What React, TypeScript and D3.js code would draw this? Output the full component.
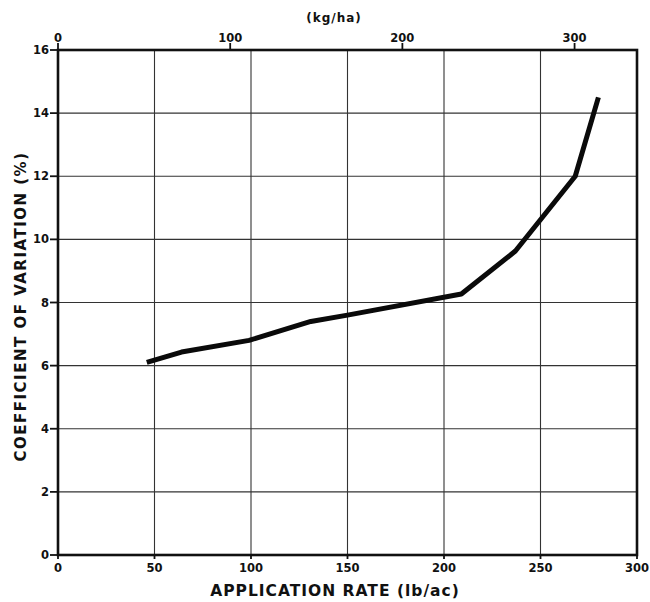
import React, { useEffect, useRef } from 'react';
import * as d3 from 'd3';

// application rate (lb/ac) vs coefficient of variation (%)
const rateLbAc = [46, 64, 99, 131, 150, 209, 237, 268, 280];
const cvPct = [6.1, 6.43, 6.8, 7.4, 7.6, 8.27, 9.63, 12.0, 14.5];

const bottomTicks = [0, 50, 100, 150, 200, 250, 300];
const leftTicks = [0, 2, 4, 6, 8, 10, 12, 14, 16];
const topTicksKgHa = [0, 100, 200, 300];

const LB_AC_TO_KG_HA = 1.12085;

const W = 650;
const H = 602;
const FONT = '"DejaVu Sans", sans-serif';

const App = () => {
    const svgRef = useRef<SVGSVGElement>(null);

    useEffect(() => {
        if (!svgRef.current) return;
        const svg = d3.select(svgRef.current);
        svg.selectAll('*').remove();

        const margin = { top: 50, right: 13, bottom: 47, left: 58 };
        const x = d3.scaleLinear().domain([0, 300]).range([margin.left, W - margin.right]);
        const y = d3.scaleLinear().domain([0, 16]).range([H - margin.bottom, margin.top]);
        const xKg = d3.scaleLinear()
            .domain([0, 300 * LB_AC_TO_KG_HA])
            .range([margin.left, W - margin.right]);

        svg.append('rect').attr('width', W).attr('height', H).attr('fill', '#fff');

        // grid
        const grid = svg.append('g').attr('stroke', '#333').attr('stroke-width', 1.1);
        bottomTicks.slice(1, -1).forEach(t => {
            grid.append('line')
                .attr('x1', x(t)).attr('x2', x(t))
                .attr('y1', y(0)).attr('y2', y(16));
        });
        leftTicks.slice(1, -1).forEach(t => {
            grid.append('line')
                .attr('x1', x(0)).attr('x2', x(300))
                .attr('y1', y(t)).attr('y2', y(t));
        });

        // frame
        svg.append('rect')
            .attr('x', x(0)).attr('y', y(16))
            .attr('width', x(300) - x(0)).attr('height', y(0) - y(16))
            .attr('fill', 'none').attr('stroke', '#111').attr('stroke-width', 2.6);

        const tickStyle = (g: any) => g
            .attr('font-family', FONT)
            .attr('font-weight', 'bold')
            .attr('font-size', 11.5)
            .attr('fill', '#111');

        // left ticks
        const left = svg.append('g');
        leftTicks.forEach(t => {
            left.append('line')
                .attr('x1', x(0) - 8).attr('x2', x(0))
                .attr('y1', y(t)).attr('y2', y(t))
                .attr('stroke', '#111').attr('stroke-width', 1.8);
            left.append('text')
                .attr('x', x(0) - 9).attr('y', y(t) + 4)
                .attr('text-anchor', 'end')
                .text(t)
                .call(tickStyle);
        });

        // bottom ticks
        const bottom = svg.append('g');
        bottomTicks.forEach(t => {
            bottom.append('line')
                .attr('x1', x(t)).attr('x2', x(t))
                .attr('y1', y(0)).attr('y2', y(0) + 4)
                .attr('stroke', '#111').attr('stroke-width', 1.8);
            bottom.append('text')
                .attr('x', x(t)).attr('y', y(0) + 17)
                .attr('text-anchor', 'middle')
                .text(t)
                .call(tickStyle);
        });

        // top kg/ha ticks
        const top = svg.append('g');
        topTicksKgHa.forEach(t => {
            top.append('line')
                .attr('x1', xKg(t)).attr('x2', xKg(t))
                .attr('y1', y(16) - 7).attr('y2', y(16))
                .attr('stroke', '#111').attr('stroke-width', 1.8);
            top.append('text')
                .attr('x', xKg(t)).attr('y', y(16) - 8)
                .attr('text-anchor', 'middle')
                .text(t)
                .call(tickStyle);
        });

        svg.append('text')
            .attr('x', 334).attr('y', 22)
            .attr('text-anchor', 'middle')
            .attr('font-family', FONT).attr('font-weight', 'bold')
            .attr('font-size', 12).attr('letter-spacing', 1)
            .attr('fill', '#111')
            .text('(kg/ha)');

        // data line
        const pts: [number, number][] = rateLbAc.map((r, i) => [r, cvPct[i]]);
        svg.append('path')
            .datum(pts)
            .attr('fill', 'none')
            .attr('stroke', '#0a0a0a')
            .attr('stroke-width', 5)
            .attr('stroke-linejoin', 'round')
            .attr('d', d3.line<[number, number]>().x(d => x(d[0])).y(d => y(d[1])));

        // axis titles
        svg.append('text')
            .attr('x', 335).attr('y', 596)
            .attr('text-anchor', 'middle')
            .attr('font-family', FONT).attr('font-weight', 'bold')
            .attr('font-size', 15.5).attr('letter-spacing', 1)
            .attr('fill', '#111')
            .text('APPLICATION RATE (lb/ac)');

        svg.append('text')
            .attr('transform', `translate(26,${(y(0) + y(16)) / 2 + 4}) rotate(-90)`)
            .attr('text-anchor', 'middle')
            .attr('font-family', FONT).attr('font-weight', 'bold')
            .attr('font-size', 15).attr('letter-spacing', 1.5)
            .attr('fill', '#111')
            .text('COEFFICIENT OF VARIATION (%)');
    }, []);

    return (
        <svg
            ref={svgRef}
            width={W}
            height={H}
            style={{ position: 'absolute', left: 0, top: 0 }}
        />
    );
};

export default App;
